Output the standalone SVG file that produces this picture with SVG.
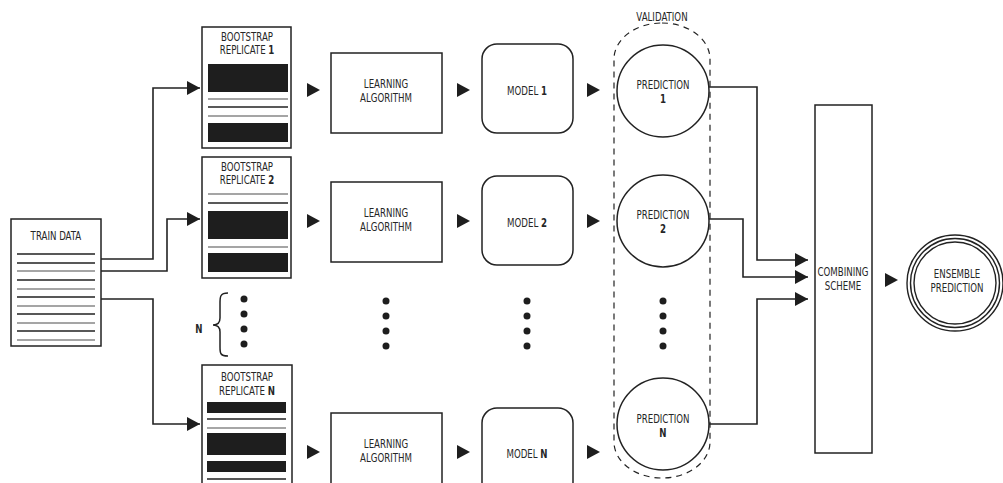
<svg xmlns="http://www.w3.org/2000/svg" width="1003" height="483" viewBox="0 0 1003 483">
  <style>
    .box { fill: #fff; stroke: #222; stroke-width: 1.5; }
    .ln { stroke: #222; stroke-width: 1.5; fill: none; }
    .lg { stroke: #888; stroke-width: 1.5; fill: none; }
    .bar { fill: #1e1e1e; }
    .tri { fill: #1e1e1e; }
    .dot { fill: #1e1e1e; }
    .conn { stroke: #222; stroke-width: 1.6; fill: none; marker-end: url(#head); }
    .dash { fill: none; stroke: #222; stroke-width: 1.2; stroke-dasharray: 6 5; }
    text { font-family: "DejaVu Sans Condensed", "DejaVu Sans", "Liberation Sans", sans-serif; font-stretch: condensed; font-size: 12px; fill: #262626; text-anchor: middle;
           transform-box: fill-box; transform-origin: center; transform: scaleX(0.8); }
    .b { font-weight: bold; }
  </style>
  <defs>
    <marker id="head" markerUnits="userSpaceOnUse" markerWidth="13" markerHeight="14" refX="13" refY="7" orient="auto">
      <path d="M0,0 L13,7 L0,14 z" fill="#1e1e1e"/>
    </marker>
    <path id="step" class="tri" d="M0,-7 L13,0 L0,7 z"/>
    <g id="dots">
      <circle class="dot" cx="0" cy="0" r="3.5"/>
      <circle class="dot" cx="0" cy="15" r="3.5"/>
      <circle class="dot" cx="0" cy="30" r="3.5"/>
      <circle class="dot" cx="0" cy="45" r="3.5"/>
    </g>
  </defs>

  <!-- training data document -->
  <g id="train-data">
    <rect class="box" x="11" y="219" width="90" height="127"/>
    <text x="56" y="240">TRAIN DATA</text>
    <path class="ln" d="M17,254H95M17,263H95M17,280H95M17,297H95M17,314H95M17,331H95"/>
    <path class="lg" d="M17,271H95M17,289H95M17,306H95M17,323H95M17,340H95"/>
  </g>

  <!-- bootstrap replicates -->
  <g id="replicate-1">
    <rect class="box" x="202" y="27" width="89" height="121"/>
    <text x="247" y="41">BOOTSTRAP</text>
    <text x="247" y="54">REPLICATE <tspan class="b">1</tspan></text>
    <rect class="bar" x="208" y="64" width="80" height="28"/>
    <path class="lg" d="M208,99H288M208,116H288"/>
    <path class="ln" d="M208,107H288"/>
    <rect class="bar" x="208" y="123" width="80" height="19"/>
  </g>
  <g id="replicate-2">
    <rect class="box" x="202" y="157" width="89" height="121"/>
    <text x="247" y="171">BOOTSTRAP</text>
    <text x="247" y="184">REPLICATE <tspan class="b">2</tspan></text>
    <path class="lg" d="M208,194H288M208,247H288"/>
    <path class="ln" d="M208,203H288"/>
    <rect class="bar" x="208" y="211" width="80" height="28"/>
    <rect class="bar" x="208" y="253" width="80" height="19"/>
  </g>
  <g id="replicate-n">
    <rect class="box" x="202" y="365" width="90" height="125"/>
    <text x="247" y="381">BOOTSTRAP</text>
    <text x="247" y="395">REPLICATE <tspan class="b">N</tspan></text>
    <rect class="bar" x="207" y="402" width="79" height="11"/>
    <path class="ln" d="M207,419H286M207,479H286"/>
    <path class="lg" d="M207,428H286"/>
    <rect class="bar" x="207" y="433" width="79" height="22"/>
    <rect class="bar" x="207" y="461" width="79" height="11"/>
  </g>

  <!-- N brace -->
  <g id="n-brace">
    <text x="199" y="333" class="b">N</text>
    <path class="ln" stroke-width="1.3" d="M228,293 C220,293 220,297 220,303 L220,318 C220,323 218,325 213,325 C218,325 220,327 220,332 L220,347 C220,353 220,356 228,356"/>
    <use href="#dots" x="244" y="299"/>
  </g>

  <!-- learning algorithms -->
  <g id="learning-1">
    <rect class="box" x="331" y="53" width="111" height="80"/>
    <text x="386" y="88">LEARNING</text>
    <text x="386" y="102">ALGORITHM</text>
  </g>
  <g id="learning-2">
    <rect class="box" x="331" y="182" width="111" height="80"/>
    <text x="386" y="217">LEARNING</text>
    <text x="386" y="231">ALGORITHM</text>
  </g>
  <g id="learning-ellipsis"><use href="#dots" x="386" y="301"/></g>
  <g id="learning-n">
    <rect class="box" x="331" y="413" width="111" height="80"/>
    <text x="386" y="448">LEARNING</text>
    <text x="386" y="462">ALGORITHM</text>
  </g>

  <!-- models -->
  <g id="model-1">
    <rect class="box" x="482" y="44" width="91" height="89" rx="15"/>
    <text x="527" y="95">MODEL <tspan class="b">1</tspan></text>
  </g>
  <g id="model-2">
    <rect class="box" x="482" y="176" width="91" height="89" rx="15"/>
    <text x="527" y="227">MODEL <tspan class="b">2</tspan></text>
  </g>
  <g id="model-ellipsis"><use href="#dots" x="527" y="301"/></g>
  <g id="model-n">
    <rect class="box" x="482" y="408" width="91" height="89" rx="15"/>
    <text x="527" y="458">MODEL <tspan class="b">N</tspan></text>
  </g>

  <!-- validation region -->
  <g id="validation">
    <rect class="dash" x="614" y="23" width="96" height="455" rx="48" ry="36"/>
    <text x="662" y="21">VALIDATION</text>
  </g>

  <!-- predictions -->
  <g id="prediction-1">
    <circle class="box" cx="663" cy="91" r="46"/>
    <text x="663" y="89">PREDICTION</text>
    <text x="663" y="103" class="b">1</text>
  </g>
  <g id="prediction-2">
    <circle class="box" cx="663" cy="221" r="46"/>
    <text x="663" y="219">PREDICTION</text>
    <text x="663" y="233" class="b">2</text>
  </g>
  <g id="prediction-ellipsis"><use href="#dots" x="663" y="301"/></g>
  <g id="prediction-n">
    <circle class="box" cx="663" cy="424" r="46"/>
    <text x="663" y="423">PREDICTION</text>
    <text x="663" y="437" class="b">N</text>
  </g>

  <!-- combining scheme -->
  <g id="combining">
    <rect class="box" x="815" y="105" width="57" height="348"/>
    <text x="843" y="276">COMBINING</text>
    <text x="843" y="290">SCHEME</text>
  </g>

  <!-- ensemble prediction -->
  <g id="ensemble">
    <circle cx="955" cy="283" r="48" fill="#fff" stroke="#222" stroke-width="1.4"/>
    <circle cx="955" cy="283" r="44.5" fill="none" stroke="#222" stroke-width="1.4"/>
    <circle cx="955" cy="283" r="41" fill="none" stroke="#222" stroke-width="1.4"/>
    <text x="957" y="278">ENSEMBLE</text>
    <text x="957" y="292">PREDICTION</text>
  </g>

  <!-- connectors -->
  <g id="connectors">
    <path class="conn" d="M101,259H153V88H200"/>
    <path class="conn" d="M101,271H167V219H200"/>
    <path class="conn" d="M101,299H153V424H200"/>
    <path class="conn" d="M709,87H757V260H808"/>
    <path class="conn" d="M709,219H743V277H808"/>
    <path class="conn" d="M709,424H757V299H808"/>
    <use href="#step" x="307" y="90"/>
    <use href="#step" x="457" y="90"/>
    <use href="#step" x="587" y="90"/>
    <use href="#step" x="307" y="221"/>
    <use href="#step" x="457" y="221"/>
    <use href="#step" x="587" y="221"/>
    <use href="#step" x="307" y="452"/>
    <use href="#step" x="457" y="452"/>
    <use href="#step" x="587" y="452"/>
    <use href="#step" x="885" y="280"/>
  </g>
</svg>
